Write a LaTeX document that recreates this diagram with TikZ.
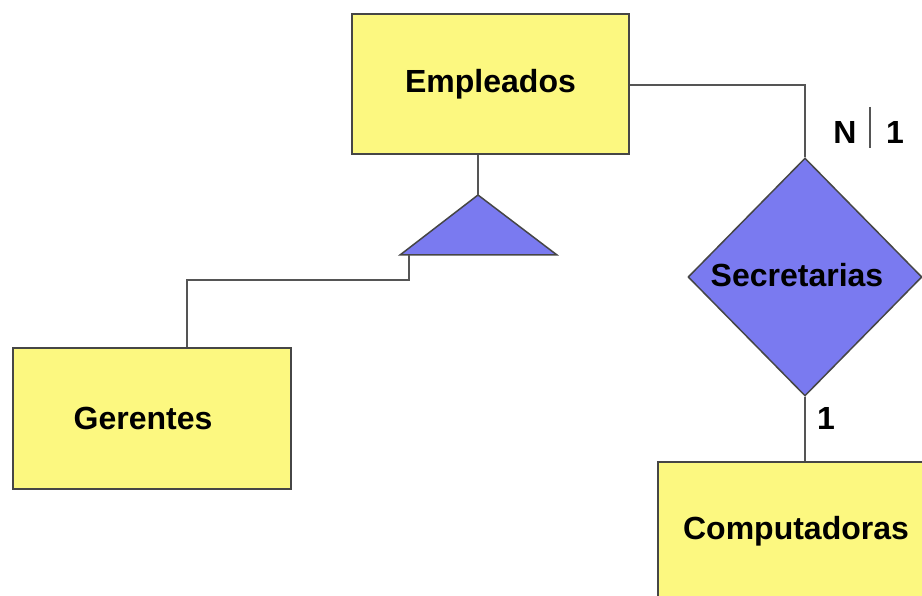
\documentclass[tikz,border=0pt]{standalone}
\usepackage{fontspec}
\setmainfont{Liberation Sans}
\usetikzlibrary{shapes.geometric}
\definecolor{entfill}{RGB}{252,248,128}
\definecolor{relfill}{RGB}{122,122,240}
\definecolor{edge}{RGB}{70,70,70}
\definecolor{wire}{RGB}{85,85,85}
\tikzset{
  x=1pt, y=-1pt,
  every node/.style={font=\fontsize{32}{38}\selectfont\bfseries, text=black},
  entity/.style={draw=edge, line width=2pt, fill=entfill, inner sep=0pt, anchor=north west},
  relation/.style={diamond, draw=edge, line width=1.5pt, fill=relfill, inner sep=0pt,
    minimum width=234pt, minimum height=238pt},
  isa/.style={draw=edge, line width=1.5pt, fill=relfill, line join=miter},
  wire/.style={draw=wire, line width=2.5pt},
  card/.style={inner sep=0pt}
}
\begin{document}
\begin{tikzpicture}
\useasboundingbox (0,0) rectangle (922,596);
\clip (0,0) rectangle (922,596);

% entities
\node[entity, minimum width=277pt, minimum height=140pt] (emp) at (351,13) {Empleados};
\node[entity, minimum width=278pt, minimum height=141pt] (ger) at (12,347) {\hspace*{-18pt}Gerentes};
\node[entity, minimum width=283pt, minimum height=139pt] (comp) at (657,461) {\hspace*{-7pt}Computadoras};

% relationship
\node[relation] (sec) at (805,277) {\raisebox{4pt}{\hspace*{-16pt}Secretarias}};

% specialisation triangle
\coordinate (isatop) at (478,195);
\coordinate (isal) at (400,255);
\coordinate (isar) at (557,255);
\coordinate (isafoot) at (409,255);
\path[isa] (isatop) -- (isar) -- (isal) -- cycle;

% connectors
\draw[wire] (emp.south -| isatop) -- (isatop);
\draw[wire] (isafoot) -- (409,280) -- (187,280) -- (ger.north -| 187,0);
\draw[wire] (emp.east |- 0,85) -- (sec.north |- 0,85) -- (sec.north);
\draw[wire] (sec.south) -- (comp.north -| sec.south);

% cardinalities
\node[card] (cn) at (845,132) {N};
\node[card] (c1) at (895,132) {1};
\coordinate (bartop) at (870,107);
\coordinate (barbot) at (870,148);
\draw[wire, line width=2pt] (bartop) -- (barbot);
\node[card] (c2) at (826,418) {1};
\end{tikzpicture}
\end{document}
